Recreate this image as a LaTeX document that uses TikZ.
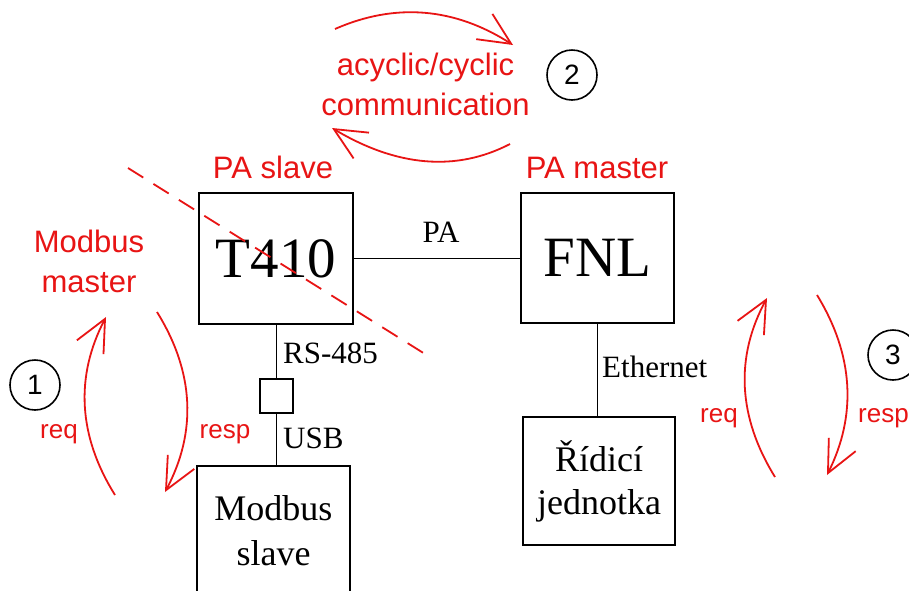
\documentclass[tikz,border=0pt]{standalone}
\usepackage{fontspec}
\setmainfont{Liberation Serif}
\newfontfamily\annotfont{Liberation Sans}
\usetikzlibrary{arrows.meta}
\definecolor{annot}{RGB}{232,20,20}

\begin{document}
\begin{tikzpicture}[x=1pt,y=-1pt,
  box/.style={draw=black, line width=1.8pt, inner sep=0pt, align=center},
  wire/.style={draw=black, line width=1.8pt},
  wlabel/.style={inner sep=0pt, font=\fontsize{31}{36}\selectfont},
  rlabel/.style={inner sep=0pt, text=annot, font=\annotfont\fontsize{31}{40}\selectfont},
  rsmall/.style={inner sep=0pt, text=annot, font=\annotfont\fontsize{26}{30}\selectfont},
  num/.style={circle, draw=black, line width=1.6pt, minimum size=50pt, inner sep=0pt,
    font=\annotfont\fontsize{28}{30}\selectfont},
  flow/.style={draw=annot, line width=1.8pt, -{Straight Barb[length=32pt,width=30pt]}}]

\useasboundingbox (0,0) rectangle (909,590);
\fill[white] (0,0) rectangle (909,590);
\clip (0,0) rectangle (909,590);

% devices
\node[box, minimum width=154pt, minimum height=131pt, font=\fontsize{57}{60}\selectfont]
  (t410) at (276,258.5) {T410};
\node[box, minimum width=153pt, minimum height=130pt, font=\fontsize{57}{60}\selectfont]
  (fnl) at (597.5,258) {FNL};
\node[box, minimum width=152pt, minimum height=128pt, font=\fontsize{36}{43}\selectfont]
  (rid) at (599,481) {Řídicí\\jednotka};
\node[box, minimum width=153pt, minimum height=130pt, font=\fontsize{36}{45}\selectfont]
  (mbs) at (273.5,531) {Modbus\\slave};
\node[box, minimum width=33pt, minimum height=34pt] (conv) at (276.5,396) {};

% wiring
\draw[wire] (t410.east) -- (t410.east -| fnl.west);
\draw[wire] (conv.north |- t410.south) -- (conv.north);
\draw[wire] (conv.south) -- (conv.south |- mbs.north);
\draw[wire] (fnl.south) -- (fnl.south |- rid.north);

% bus labels
\node[wlabel, anchor=base] (pa) at (441,242) {PA};
\node[wlabel, anchor=base west] (rs) at (283,363) {RS-485};
\node[wlabel, anchor=base west] (usbl) at (283,448) {USB};
\node[wlabel, anchor=base west] (eth) at (602,377) {Ethernet};

% roles
\node[rlabel, anchor=base] (paslave) at (273,178) {PA slave};
\node[rlabel, anchor=base] (pamaster) at (597,178) {PA master};
\node[rlabel, anchor=base] (mbmaster) at (89,252)
  {\begin{tabular}[t]{@{}c@{}}Modbus\\master\end{tabular}};
\node[rlabel, anchor=base] (comm) at (425.5,75)
  {\begin{tabular}[t]{@{}c@{}}acyclic/cyclic\\communication\end{tabular}};

% request / response labels
\node[rsmall, anchor=base] (req1) at (59,438) {req};
\node[rsmall, anchor=base] (resp1) at (225,438) {resp};
\node[rsmall, anchor=base] (req3) at (719,422) {req};
\node[rsmall, anchor=base west] (resp3) at (858,422) {resp};

% step numbers
\node[num] (n1) at (35,385) {1};
\node[num] (n2) at (572,75) {2};
\node[num] (n3) at (893,355) {3};

% T410 is crossed out as Modbus master
\coordinate (x1) at (128,168);
\coordinate (x2) at (425,354);
\draw[annot, line width=1.8pt, dash pattern=on 18pt off 12pt] (x1) -- (x2);

% exchange arrows
\coordinate (a1s) at (115,495);  \coordinate (a1e) at (106,317);
\coordinate (b1s) at (157,312);  \coordinate (b1e) at (165,492);
\coordinate (a3s) at (775,477);  \coordinate (a3e) at (767,298);
\coordinate (b3s) at (817,295);  \coordinate (b3e) at (827,475);
\coordinate (a2s) at (335,29);   \coordinate (a2e) at (513,45);
\coordinate (b2s) at (510,144);  \coordinate (b2e) at (332,128);

\draw[flow] (a1s) .. controls (78,435.7) and (75,376.3) .. (a1e);
\draw[flow] (b1s) .. controls (194.3,372) and (197,432) .. (b1e);
\draw[flow] (a3s) .. controls (737.7,416.7) and (735,357) .. (a3e);
\draw[flow] (b3s) .. controls (853.7,355) and (857,415) .. (b3e);
\draw[flow] (a2s) .. controls (395.7,2.3) and (455,7.7) .. (a2e);
\draw[flow] (b2s) .. controls (456,172) and (396.7,166.7) .. (b2e);
\end{tikzpicture}
\end{document}
